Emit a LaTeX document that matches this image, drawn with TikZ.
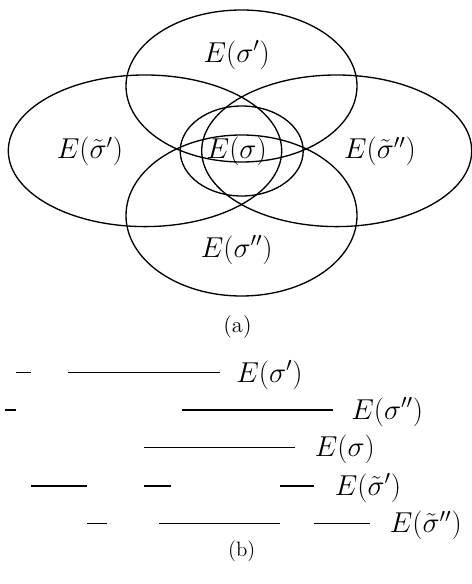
\documentclass[tikz,border=0pt]{standalone}
\begin{document}
\begin{tikzpicture}[x=0.6pt,y=-0.6pt,
  curve/.style={line width=0.8pt},
  seg/.style={line width=0.8pt},
  lab/.style={inner sep=0pt,font=\fontsize{16.5}{19}\selectfont},
  labw/.style={lab,anchor=west},
  captext/.style={inner sep=0pt,font=\fontsize{12.5}{15}\selectfont}]
\useasboundingbox (0,0) rectangle (472,584);
% (a) ellipses
\draw[curve] (241.5,86) ellipse [x radius=115.5, y radius=76];
\draw[curve] (241.5,215.5) ellipse [x radius=115.5, y radius=80.5];
\draw[curve] (145,150.8) ellipse [x radius=136.7, y radius=75.8];
\draw[curve] (336.7,150.8) ellipse [x radius=135, y radius=75.8];
\draw[curve] (241.7,151) ellipse [x radius=61.5, y radius=45];
\node[lab] (lsp) at (236.7,55) {$E(\sigma')$};
\node[lab] (lstp) at (90,151.7) {$E(\tilde\sigma')$};
\node[lab] (ls) at (236.7,151.7) {$E(\sigma)$};
\node[lab] (lstpp) at (380,151.7) {$E(\tilde\sigma'')$};
\node[lab] (lspp) at (236.7,250) {$E(\sigma'')$};
\node[captext,font=\fontsize{13.5}{16}\selectfont] (capa) at (237.5,326.5) {(a)};
% (b) segments
\draw[seg] (16,372.7) -- (30.7,372.7);
\draw[seg] (68.3,372.7) -- coordinate[pos=1] (e1) (220,372.7);
\draw[seg] (5,410) -- (16,410);
\draw[seg] (181.7,410) -- coordinate[pos=1] (e2) (333.3,410);
\draw[seg] (144,447.7) -- coordinate[pos=1] (e3) (295,447.7);
\draw[seg] (30.7,486) -- (87.3,486);
\draw[seg] (144,486) -- (170.7,486);
\draw[seg] (280,486) -- coordinate[pos=1] (e4) (314,486);
\draw[seg] (87.3,523.3) -- (106.7,523.3);
\draw[seg] (159.3,523.3) -- (280,523.3);
\draw[seg] (314,523.3) -- coordinate[pos=1] (e5) (370,523.3);
\node[labw] (b1) at (236,375) {$E(\sigma')$};
\node[labw] (b2) at (351,412) {$E(\sigma'')$};
\node[labw] (b3) at (314.5,449.7) {$E(\sigma)$};
\node[labw] (b4) at (334.5,488) {$E(\tilde\sigma')$};
\node[labw] (b5) at (389.5,525.3) {$E(\tilde\sigma'')$};
\node[captext] (capb) at (241.7,551) {(b)};
\end{tikzpicture}
\end{document}
